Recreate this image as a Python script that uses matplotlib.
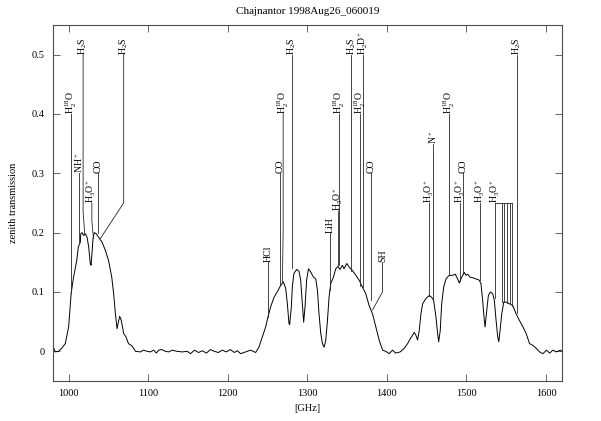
import matplotlib
matplotlib.use("Agg")
import matplotlib.pyplot as plt

plt.rcParams["font.family"] = ["Liberation Serif", "DejaVu Serif"]
plt.rcParams["mathtext.fontset"] = "custom"
plt.rcParams["mathtext.rm"] = "Liberation Serif"
plt.rcParams["mathtext.it"] = "Liberation Serif:italic"
plt.rcParams["mathtext.bf"] = "Liberation Serif:bold"

freq = [980, 983, 987, 991, 995.6, 999.8, 1003, 1006, 1010, 1012, 1014.5, 1015,
        1016.6, 1018.6, 1020.8, 1023, 1025, 1027, 1028, 1029, 1030.5, 1032,
        1034.6, 1037.5, 1041.8, 1046, 1050, 1054, 1056.4, 1058.6, 1060.7, 1062,
        1064, 1066, 1069, 1072, 1075, 1079.6, 1083.8, 1090, 1094, 1098.5,
        1102.6, 1106.8, 1110, 1113, 1117, 1121.5, 1125.7, 1130, 1136, 1142.6,
        1149, 1153, 1158, 1163, 1168, 1173, 1178, 1183, 1188, 1193, 1198, 1203,
        1208, 1212, 1216, 1222.3, 1228.6, 1234.9, 1239, 1243.3, 1247.5, 1250.4,
        1253.8, 1258, 1262, 1266.4, 1269.8, 1272.7, 1274.8, 1276.8, 1277.7,
        1279.8, 1281, 1283, 1286.5, 1289.4, 1291.5, 1293.7, 1295.3, 1297, 1299,
        1301.3, 1304, 1307.6, 1310.5, 1312.6, 1314.6, 1316.8, 1318.9, 1321, 1323,
        1325.2, 1327.2, 1329.3, 1332.7, 1335.6, 1338.5, 1341, 1344, 1346, 1349.5,
        1352.4, 1356.6, 1361, 1365, 1369.3, 1373.4, 1377.6, 1381.9, 1386, 1390.2,
        1394.5, 1398.6, 1402.8, 1407, 1411, 1416.6, 1421.7, 1426, 1429.2, 1432.2,
        1434.3, 1436.4, 1438.5, 1440.6, 1442.7, 1444.8, 1449, 1453.2, 1456.2,
        1458.7, 1461.6, 1463.7, 1465, 1467, 1468.8, 1471.3, 1474.2, 1478.3,
        1482.6, 1485.9, 1488.9, 1491, 1493, 1495.2, 1497.2, 1499.4, 1501.5,
        1504.4, 1507.8, 1512, 1516, 1518.2, 1520.3, 1522.4, 1523.3, 1525, 1527.5,
        1530, 1533, 1535, 1537.2, 1539.3, 1540.6, 1542.2, 1544.3, 1546.9, 1549.8,
        1554, 1558.2, 1562.4, 1566.6, 1571, 1575, 1579.3, 1583.5, 1587.7, 1591.9,
        1596.2, 1600.4, 1604.6, 1608.6, 1613, 1618, 1620]
trans = [0.009, -0.001, 0.0, 0.005, 0.013, 0.041, 0.098, 0.125, 0.153, 0.176,
         0.184, 0.198, 0.2, 0.195, 0.198, 0.192, 0.176, 0.148, 0.145, 0.164,
         0.19, 0.2, 0.198, 0.192, 0.184, 0.17, 0.153, 0.125, 0.097, 0.063,
         0.038, 0.047, 0.059, 0.052, 0.03, 0.024, 0.013, 0.009, 0.0, -0.001,
         0.002, 0.0, -0.001, 0.002, -0.003, 0.002, 0.003, 0.0, -0.001, 0.002,
         0.0, -0.001, 0.0, -0.004, 0.002, -0.002, 0.001, -0.003, 0.003, 0.0,
         -0.002, 0.002, -0.001, 0.003, -0.002, 0.001, -0.004, -0.001, 0.002,
         -0.002, 0.007, 0.024, 0.041, 0.058, 0.075, 0.091, 0.1, 0.111, 0.117,
         0.106, 0.08, 0.047, 0.045, 0.075, 0.108, 0.131, 0.138, 0.135, 0.12,
         0.08, 0.049, 0.075, 0.12, 0.139, 0.134, 0.125, 0.122, 0.103, 0.063,
         0.03, 0.013, 0.007, 0.018, 0.052, 0.091, 0.114, 0.125, 0.139, 0.143,
         0.138, 0.145, 0.139, 0.148, 0.142, 0.136, 0.128, 0.12, 0.108, 0.097,
         0.077, 0.063, 0.041, 0.019, 0.002, 0.0, -0.004, 0.002, -0.003, -0.001,
         0.005, 0.013, 0.021, 0.027, 0.032, 0.027, 0.019, 0.035, 0.063, 0.08,
         0.089, 0.094, 0.091, 0.086, 0.058, 0.03, 0.016, 0.035, 0.08, 0.108,
         0.122, 0.128, 0.128, 0.13, 0.122, 0.115, 0.122, 0.128, 0.133, 0.128,
         0.13, 0.125, 0.124, 0.122, 0.12, 0.114, 0.086, 0.052, 0.041, 0.063,
         0.094, 0.1, 0.097, 0.086, 0.052, 0.024, 0.016, 0.035, 0.063, 0.083,
         0.083, 0.08, 0.077, 0.063, 0.052, 0.041, 0.03, 0.013, 0.01, 0.005,
         -0.001, -0.004, 0.002, -0.003, 0.002, -0.001, 0.002, 0.0]

# line identifications: label position, leader knee, line frequency and end
mol_names = [r"H$_2^{18}$O", r"H$_2$S", r"NH$^+$", r"H$_3$O$^+$", "CO", r"H$_2$S",
             "HCl", "CO", r"H$_2^{18}$O", r"H$_2$S", "LiH", r"H$_3$O$^+$",
             r"H$_2^{18}$O", r"H$_2$S", r"H$_2^{18}$O", r"H$_2$D$^+$", "CO", "SH",
             r"H$_3$O$^+$", r"N$^+$", r"H$_2^{18}$O", r"H$_3$O$^+$", "CO",
             r"H$_3$O$^+$", r"H$_3$O$^+$", r"H$_2$S"]
label_f = [1002.8, 1018.0, 1012.4, 1029.0, 1036.3, 1069.0,
           1250.4, 1266.0, 1269.5, 1280.2, 1328.5, 1338.6,
           1340.3, 1355.3, 1366.4, 1370.2, 1379.7, 1394.4,
           1453.2, 1458.2, 1478.4, 1491.8, 1495.2,
           1517.4, 1536.3, 1563.2]
label_y = [0.40, 0.50, 0.30, 0.25, 0.30, 0.50,
           0.15, 0.30, 0.40, 0.50, 0.20, 0.237,
           0.40, 0.50, 0.40, 0.50, 0.30, 0.15,
           0.25, 0.35, 0.40, 0.25, 0.30,
           0.25, 0.25, 0.50]
knee_y = [0.2, 0.235, 0.2, 0.22, 0.25, 0.25,
          0.1, 0.2, 0.2, 0.2, 0.15, 0.2,
          0.2, 0.2, 0.2, 0.2, 0.2, 0.10,
          0.2, 0.2, 0.2, 0.2, 0.2,
          0.2, 0.2, 0.2]
line_f = [1002.8, 1020.0, 1012.4, 1031.0, 1036.3, 1039.7,
          1250.4, 1266.0, 1268.5, 1280.2, 1328.5, 1338.6,
          1340.3, 1355.3, 1366.4, 1370.2, 1379.7, 1382.0,
          1453.2, 1458.2, 1478.4, 1491.8, 1495.2,
          1517.4, 1536.3, 1563.2]
line_end = [0.098, 0.198, 0.184, 0.19, 0.2, 0.19,
            0.058, 0.112, 0.116, 0.14, 0.103, 0.145,
            0.145, 0.136, 0.11, 0.108, 0.086, 0.07,
            0.094, 0.088, 0.128, 0.118, 0.13,
            0.12, 0.09, 0.065]

# comb of H3O+ components joined to the 1536 GHz label
comb_f = [1544.7, 1547.6, 1551.0, 1554.4, 1557.3]
comb_end = [0.083, 0.083, 0.081, 0.079, 0.077]
comb_top = 0.25

fig = plt.figure(figsize=(6.01, 4.21), dpi=100)
ax = fig.add_axes([0.088, 0.095, 0.847, 0.846])

ax.plot(freq, trans, color="black", lw=0.7)

lc = "0.15"
for name, tf, ty, ky, lf, le in zip(mol_names, label_f, label_y, knee_y,
                                     line_f, line_end):
    if lf == tf:
        ax.plot([tf, tf], [ty, le], color=lc, lw=0.6)
    else:
        ax.plot([tf, tf, lf], [ty, ky, le], color=lc, lw=0.6)
    ax.text(tf, ty, name, rotation=90, ha="center", va="bottom", fontsize=7)

ax.plot([label_f[-2], comb_f[-1]], [comb_top, comb_top], color=lc, lw=0.6)
for cf, ce in zip(comb_f, comb_end):
    ax.plot([cf, cf], [comb_top, ce], color=lc, lw=0.6)

ax.set_xlim(980, 1620)
ax.set_ylim(-0.05, 0.55)
ax.set_xticks([1000, 1100, 1200, 1300, 1400, 1500, 1600])
ax.set_yticks([0, 0.1, 0.2, 0.3, 0.4, 0.5])
ax.set_yticklabels(["0", "0.1", "0.2", "0.3", "0.4", "0.5"])
ax.tick_params(direction="in", top=True, right=True, length=5, width=0.6,
               labelsize=7.5, pad=6, color="0.3")
for s in ax.spines.values():
    s.set_linewidth(0.8)
    s.set_color("0.3")

ax.set_xlabel("[GHz]", fontsize=7.5, labelpad=4)
ax.set_ylabel("zenith transmission", fontsize=7.5, labelpad=10)
ax.set_title("Chajnantor 1998Aug26_060019", fontsize=8, pad=8)

fig.savefig("out.png", dpi=100)
